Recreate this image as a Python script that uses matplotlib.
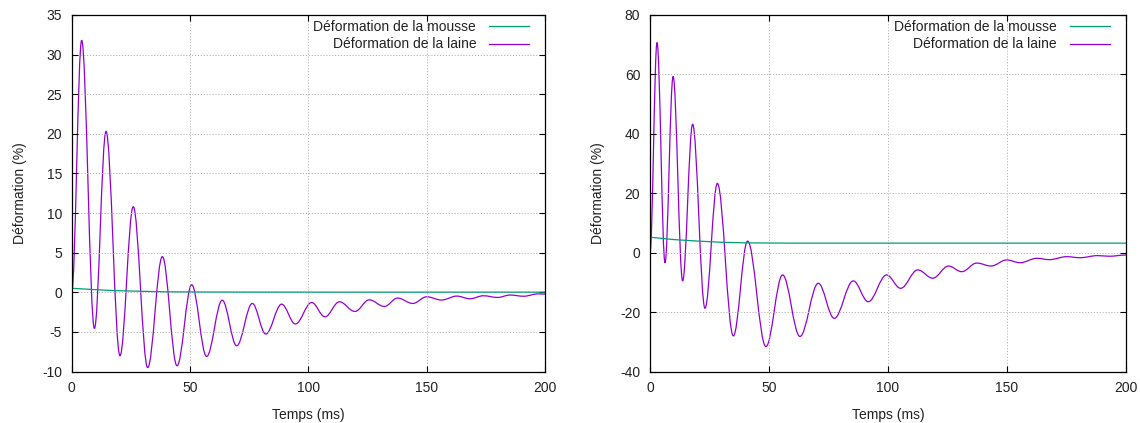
import matplotlib
matplotlib.use('Agg')
import matplotlib.pyplot as plt
from matplotlib.path import Path
from matplotlib.patches import PathPatch
from matplotlib.lines import Line2D

plt.rcParams['font.family'] = ['Liberation Sans', 'DejaVu Sans']
plt.rcParams['font.size'] = 10
plt.rcParams['axes.unicode_minus'] = False

# Extrema de la laine (panneau gauche) : temps (ms), déformation (%)
t_laine_g = [0, 4.2, 9.6, 14.5, 20.4, 26.0, 32.1, 38.3, 44.5, 50.7, 57.0, 63.6, 69.7,
             76.3, 82.0, 88.7, 94.5, 101.4, 107.0, 113.1, 119.7, 125.7, 132.1, 137.7,
             144.1, 150.0, 156.3, 162.7, 168.3, 173.9, 180.0, 185.2, 191.0, 197.0, 200]
y_laine_g = [0, 31.8, -4.56, 20.3, -8.0, 10.8, -9.5, 4.5, -9.27, 0.95, -8.1, -1.0, -6.75,
             -1.41, -5.27, -1.5, -4.0, -1.29, -3.1, -1.2, -2.42, -0.95, -1.79, -0.73,
             -1.41, -0.57, -0.98, -0.48, -0.82, -0.44, -0.65, -0.35, -0.5, -0.2, -0.23]

# Mousse (panneau gauche)
t_mousse_g = [0, 5, 10, 15, 20, 30, 40, 60, 100, 200]
y_mousse_g = [0.5, 0.42, 0.33, 0.25, 0.2, 0.12, 0.06, 0.03, 0.02, 0.02]

# Extrema de la laine (panneau droit)
t_laine_d = [0, 2.94, 6.3, 9.7, 13.7, 17.9, 23.1, 28.3, 35.0, 41.0, 48.7, 55.7, 63.0,
             70.7, 77.4, 85.4, 91.7, 99.4, 105.3, 112.5, 118.8, 125.4, 131.0, 137.3,
             143.3, 149.9, 155.5, 162.5, 167.8, 175.1, 180.7, 188.0, 193.0, 200]
y_laine_d = [0, 70.7, -3.4, 59.3, -9.5, 43.2, -18.7, 23.3, -28.0, 3.9, -31.6, -7.5, -28.2,
             -10.3, -22.1, -9.5, -16.5, -7.5, -12.0, -5.8, -8.6, -4.5, -6.4, -3.5,
             -4.5, -2.45, -3.4, -1.9, -2.35, -1.35, -1.7, -1.0, -1.2, -0.8]

# Mousse (panneau droit)
t_mousse_d = [0, 5, 10, 20, 30, 40, 60, 100, 200]
y_mousse_d = [5.2, 4.8, 4.4, 3.9, 3.5, 3.3, 3.2, 3.2, 3.2]

vert = '#009e73'
violet = '#9400d3'


def courbe(ax, t, y, couleur):
    # segments de Bézier à tangente horizontale entre extrema
    verts = [(t[0], y[0])]
    codes = [Path.MOVETO]
    for i in range(len(t) - 1):
        dt = t[i + 1] - t[i]
        verts += [(t[i] + 0.3642 * dt, y[i]), (t[i + 1] - 0.3642 * dt, y[i + 1]),
                  (t[i + 1], y[i + 1])]
        codes += [Path.CURVE4] * 3
    ax.add_patch(PathPatch(Path(verts, codes), fill=False, edgecolor=couleur, lw=0.9))


def panneau(ax, tm, ym, tl, yl, ylim, yticks):
    ax.plot(tm, ym, color=vert, lw=0.9)
    courbe(ax, tl, yl, violet)
    ax.set_xlim(0, 200)
    ax.set_ylim(*ylim)
    ax.set_xticks([0, 50, 100, 150, 200])
    ax.set_yticks(yticks)
    ax.grid(True, color='#b4b4b4', linestyle=(0, (1.2, 1.8)), lw=0.7)
    ax.tick_params(direction='in', top=True, right=True, length=4, width=0.8, pad=7,
                   colors='black', labelcolor='#222222')
    for s in ax.spines.values():
        s.set_linewidth(0.9)
    ax.set_xlabel('Temps (ms)', labelpad=9, color='#222222')
    ax.set_ylabel('Déformation (%)', labelpad=11, color='#222222')
    handles = [Line2D([], [], color=vert, lw=0.9), Line2D([], [], color=violet, lw=0.9)]
    ax.legend(handles, ['Déformation de la mousse', 'Déformation de la laine'],
              loc='upper right', bbox_to_anchor=(1 - 16 / 473, 1 - 5 / 356),
              frameon=False, markerfirst=False, borderpad=0, borderaxespad=0,
              handlelength=2.9, handletextpad=0.9, labelspacing=0.25,
              labelcolor='#222222')


fig = plt.figure(figsize=(11.4, 4.23), dpi=100)
ax1 = fig.add_axes([0.0629, 0.1217, 0.4152, 0.843])
ax2 = fig.add_axes([0.5702, 0.1217, 0.4175, 0.843])

panneau(ax1, t_mousse_g, y_mousse_g, t_laine_g, y_laine_g, (-10, 35), range(-10, 40, 5))
panneau(ax2, t_mousse_d, y_mousse_d, t_laine_d, y_laine_d, (-40, 80), range(-40, 100, 20))

fig.savefig('out.png', dpi=100)
